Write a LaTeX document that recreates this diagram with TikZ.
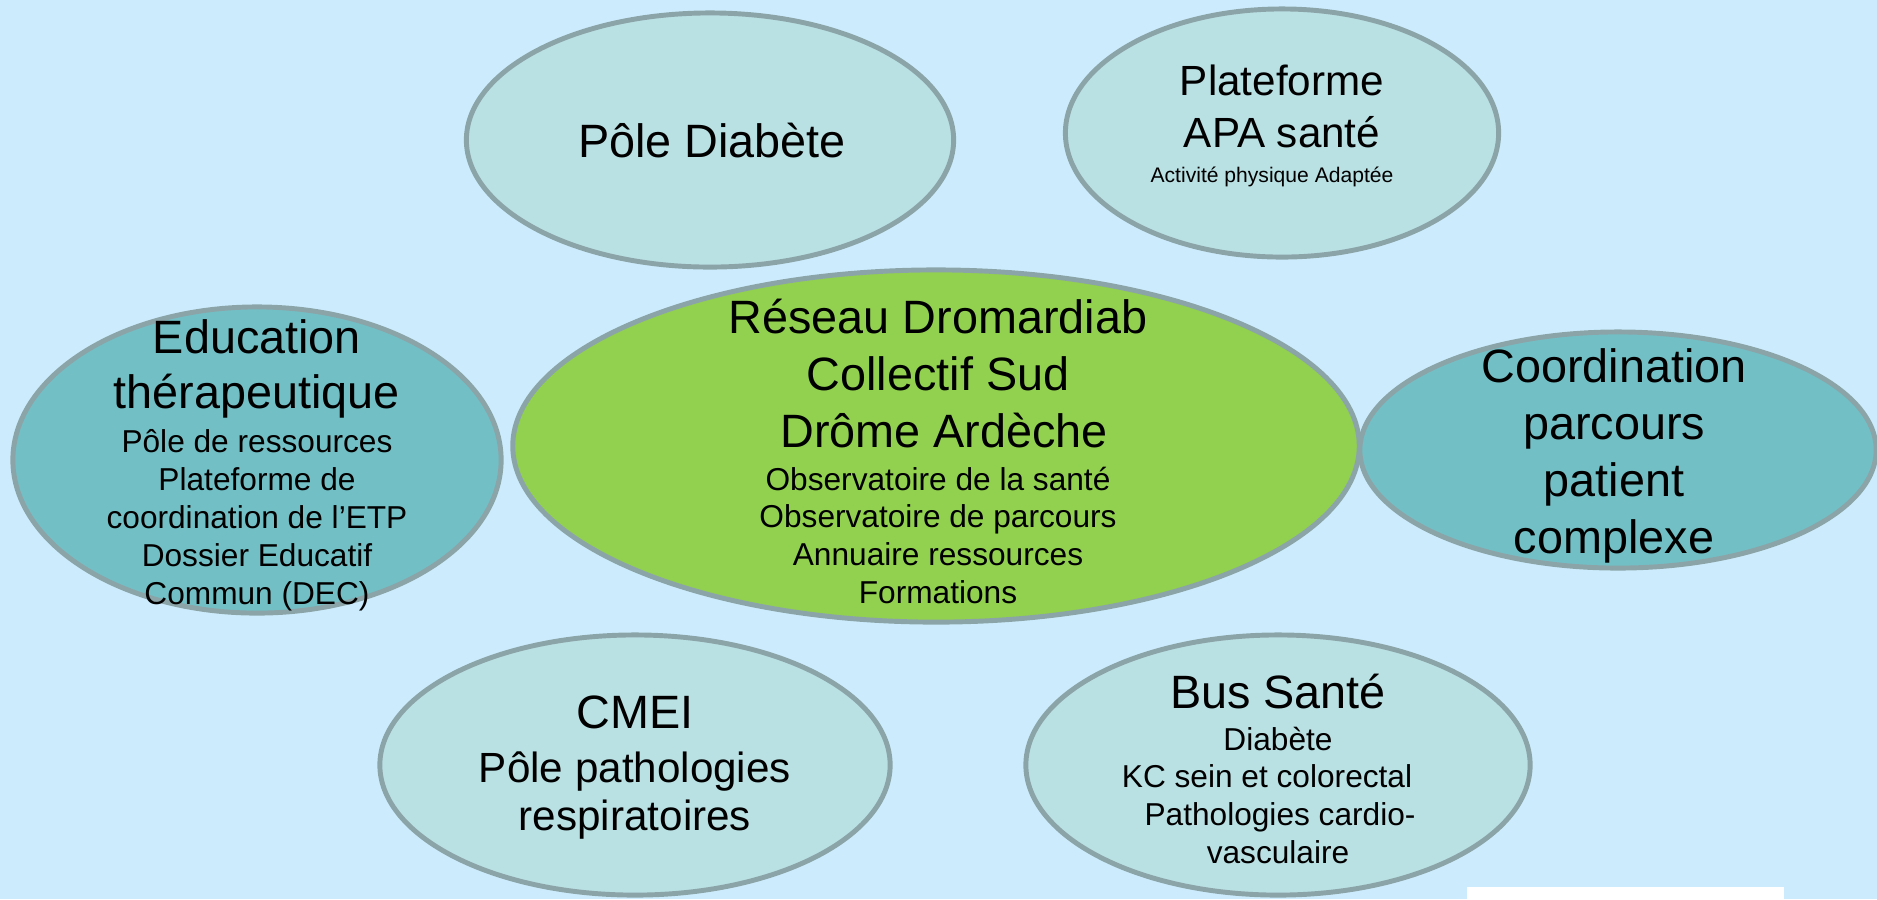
\documentclass[tikz,border=0pt]{standalone}
\usepackage{fontspec}
\setmainfont{Liberation Sans}
\usetikzlibrary{shapes.geometric}
\definecolor{fond}{RGB}{204,236,253}
\definecolor{pale}{RGB}{185,224,227}
\definecolor{sarcelle}{RGB}{114,191,197}
\definecolor{vert}{RGB}{146,208,80}
\definecolor{bord}{RGB}{139,164,168}
\begin{document}
\begin{tikzpicture}[x=0.01cm, y=-0.01cm,
    bulle/.style={ellipse, draw=bord, line width=1.4pt, inner sep=0pt},
    gros/.style={anchor=base, inner sep=0pt, font=\fontsize{13.3}{16}\selectfont},
    moyen/.style={anchor=base, inner sep=0pt, font=\fontsize{12}{14}\selectfont},
    petit/.style={anchor=base, inner sep=0pt, font=\fontsize{9}{11}\selectfont}]
    % =========================
    \fill[fond] (0,0) rectangle (1877,899);
    \useasboundingbox (0,0) rectangle (1877,899);

    \node[bulle, fill=pale, minimum width=4.87cm, minimum height=2.54cm] (diab) at (710,140) {};
    \node[bulle, fill=pale, minimum width=4.33cm, minimum height=2.48cm] (apa) at (1282,133) {};
    \node[bulle, fill=sarcelle, minimum width=4.88cm, minimum height=3.06cm] (edu) at (257,460) {};
    \node[bulle, fill=sarcelle, minimum width=5.16cm, minimum height=2.36cm] (coord) at (1618,450) {};
    \node[bulle, fill=vert, minimum width=8.46cm, minimum height=3.52cm] (reseau) at (936,446) {};
    \node[bulle, fill=pale, minimum width=5.10cm, minimum height=2.60cm] (cmei) at (635,765) {};
    \node[bulle, fill=pale, minimum width=5.04cm, minimum height=2.60cm] (bus) at (1278,765) {};
    % ===============================
    \node[gros] (diab-t) at (712,157) {Pôle Diabète};

    \node[moyen] (apa-t1) at (1282,95) {Plateforme};
    \node[moyen] (apa-t2) at (1282,147) {APA santé};
    \node[anchor=base, inner sep=0pt, font=\fontsize{6}{7}\selectfont] (apa-s) at (1272,182) {Activité physique Adaptée};

    \node[gros] (edu-t1) at (257,353) {Education};
    \node[gros] (edu-t2) at (257,408) {thérapeutique};
    \foreach \t [count=\i] in {Pôle de ressources, Plateforme de, coordination de l’ETP, Dossier Educatif, Commun (DEC)}
        \node[petit] (edu-s\i) at (257,{452+38.2*(\i-1)}) {\t};

    \foreach \t/\dx [count=\i] in {Réseau Dromardiab/0, Collectif Sud/0, Drôme Ardèche/6}
        \node[gros] (reseau-t\i) at ({938+\dx},{333+57*(\i-1)}) {\t};
    \foreach \t [count=\i] in {Observatoire de la santé, Observatoire de parcours, Annuaire ressources, Formations}
        \node[petit] (reseau-s\i) at (938,{490+37.7*(\i-1)}) {\t};

    \foreach \t [count=\i] in {Coordination, parcours, patient, complexe}
        \node[gros] (coord-t\i) at (1614,{382+57*(\i-1)}) {\t};

    \node[gros] (cmei-t) at (635,728) {CMEI};
    \node[moyen] (cmei-s1) at (635,782) {Pôle pathologies};
    \node[moyen] (cmei-s2) at (635,830) {respiratoires};

    \node[gros] (bus-t) at (1278,708) {Bus Santé};
    \foreach \t/\dx [count=\i] in {Diabète/0, KC sein et colorectal/-11, Pathologies cardio-/2, vasculaire/0}
        \node[petit] (bus-s\i) at ({1278+\dx},{750+37.7*(\i-1)}) {\t};

    \fill[white] (1467,887) rectangle (1784,899);
\end{tikzpicture}
\end{document}
